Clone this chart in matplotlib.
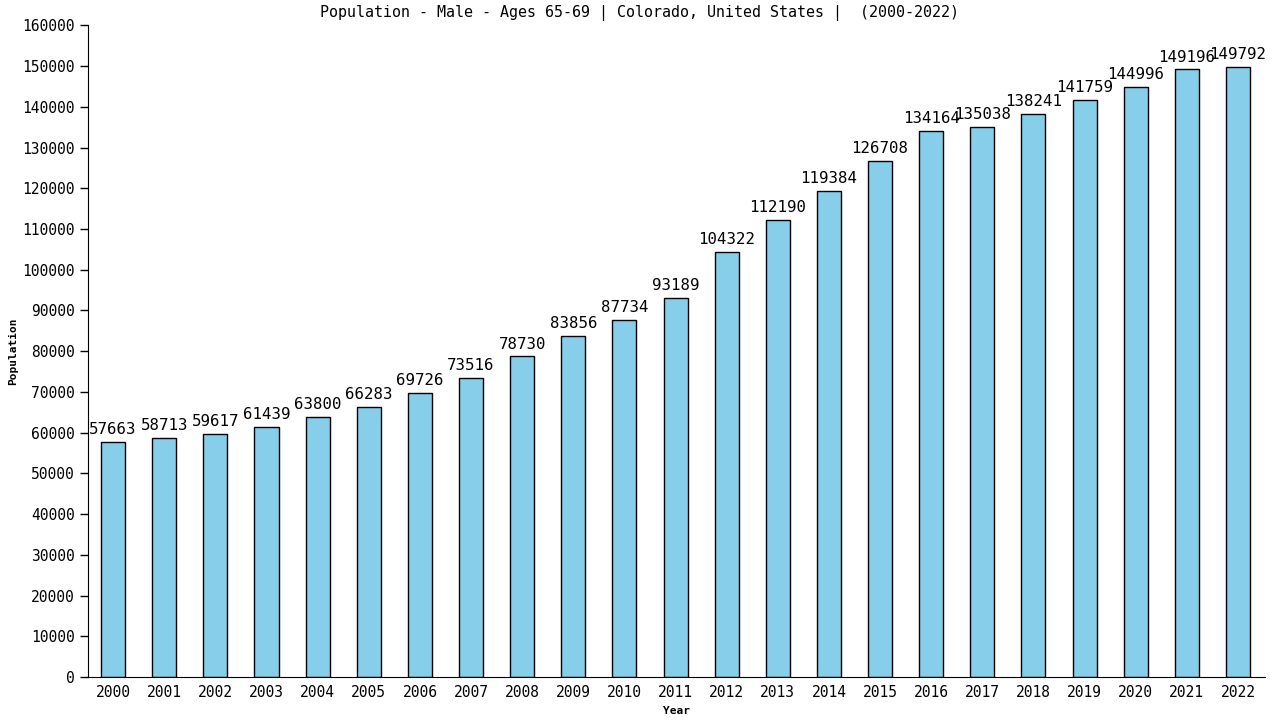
import matplotlib
matplotlib.use("Agg")
from matplotlib import pyplot as plt

years = [str(y) for y in range(2000, 2023)]
population = [57663, 58713, 59617, 61439, 63800, 66283, 69726, 73516, 78730, 83856,
              87734, 93189, 104322, 112190, 119384, 126708, 134164, 135038, 138241,
              141759, 144996, 149196, 149792]
yticks = list(range(0, 160001, 10000))

plt.rcParams['font.family'] = ['DejaVu Sans Mono']

fig = plt.figure(figsize=(12.8, 7.2), dpi=100)
ax = fig.add_axes([0.0688, 0.0597, 0.9195, 0.905])

x = list(range(len(years)))
ax.bar(x, population, width=0.47, color='#87CEEB', edgecolor='black', linewidth=1)

# value labels on top of each bar
for xi, v in zip(x, population):
    ax.text(xi, v + 1200, str(v), ha='center', va='bottom', fontsize=11.3)

ax.set_xlim(-0.49, 22.53)
ax.set_ylim(0, 160000)
ax.set_xticks(x)
ax.set_xticklabels(years, fontsize=10.5)
ax.set_yticks(yticks)
ax.set_yticklabels([str(t) for t in yticks], fontsize=10.5)
ax.tick_params(axis='x', length=0, pad=6)
ax.tick_params(axis='y', length=6, direction='out', width=1)

ax.spines['top'].set_visible(False)
ax.spines['right'].set_visible(False)

# title is centred on the whole figure, not the axes
fig.text(0.5, 0.982, 'Population - Male - Ages 65-69 | Colorado, United States |  (2000-2022)',
         ha='center', va='center', fontsize=10.8)
ax.set_xlabel('Year', fontsize=8, fontweight='bold', labelpad=4)
ax.set_ylabel('Population', fontsize=8, fontweight='bold', labelpad=3)

fig.savefig('out.png', dpi=100)
